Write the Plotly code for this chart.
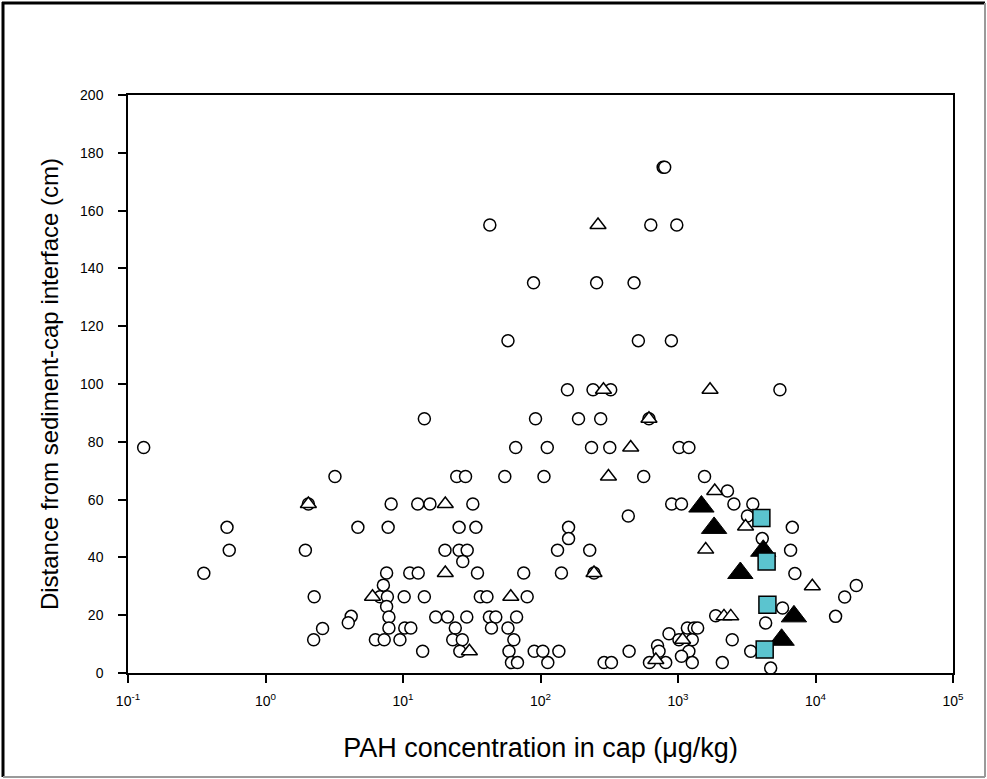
import plotly.graph_objects as go

# Open circles: PAH concentration (ug/kg) and depth above interface (cm)
circle_x = [
    780, 800,
    42.8, 634, 980,
    89, 256, 479,
    58, 515, 895,
    157, 241, 324, 5510,
    14.3, 92, 189, 274, 615,
    0.13, 66, 112, 235, 319, 1020, 1200,
    3.2, 24.6, 28.5, 55, 106, 563, 1560,
    2290,
    2.05, 8.2, 12.8, 15.7, 32.2, 900, 1060, 2550, 3500,
    435, 3200,
    0.525, 4.7, 7.8, 25.6, 33.9, 160, 6780,
    160, 4100,
    0.545, 1.95, 20.2, 25.6, 29.3, 133, 228, 6590,
    27.2,
    0.356, 7.6, 11.2, 12.9, 34.8, 75.5, 142, 245, 7080,
    7.2, 19800,
    2.26, 6.8, 7.7, 10.2, 14.3, 36.5, 40.8, 80, 16300,
    7.6, 5760,
    4.2, 7.9, 17.3, 21.1, 29.1, 42.5, 47.3, 67, 1880, 14000,
    4.0, 4340,
    2.6, 7.9, 10.3, 11.4, 24, 44, 58, 1170, 1310, 1390,
    860,
    2.24, 6.3, 7.3, 9.5, 23, 27, 64, 1016, 1270, 2480,
    710,
    13.9, 25.9, 59, 90, 104, 136, 441, 728, 1200, 3380,
    1060,
    61.5, 68, 113, 290, 328, 620, 814, 1270, 2100,
    4720,
]
circle_y = [
    175, 175,
    155, 155, 155,
    135, 135, 135,
    115, 115, 115,
    98, 98, 98, 98,
    88, 88, 88, 88, 88,
    78, 78, 78, 78, 78, 78, 78,
    68, 68, 68, 68, 68, 68, 68,
    63,
    58.5, 58.5, 58.5, 58.5, 58.5, 58.5, 58.5, 58.5, 58.5,
    54.3, 54.3,
    50.4, 50.4, 50.4, 50.4, 50.4, 50.4, 50.4,
    46.5, 46.5,
    42.5, 42.5, 42.5, 42.5, 42.5, 42.5, 42.5, 42.5,
    38.6,
    34.5, 34.6, 34.6, 34.6, 34.6, 34.6, 34.6, 34.6, 34.4,
    30.4, 30.3,
    26.4, 26.4, 26.4, 26.4, 26.4, 26.4, 26.4, 26.4, 26.3,
    23, 22.5,
    19.6, 19.4, 19.4, 19.4, 19.4, 19.4, 19.4, 19.4, 19.8, 19.6,
    17.4, 17.3,
    15.4, 15.6, 15.6, 15.6, 15.6, 15.6, 15.6, 15.6, 15.6, 15.6,
    13.6,
    11.5, 11.5, 11.5, 11.5, 11.5, 11.5, 11.5, 11.5, 11.5, 11.5,
    9.4,
    7.5, 7.5, 7.5, 7.5, 7.5, 7.5, 7.5, 7.5, 7.5, 7.5,
    5.8,
    3.6, 3.6, 3.6, 3.6, 3.6, 3.6, 3.6, 3.6, 3.6,
    1.7,
]

# Open triangles
tri_open_x = [262, 287, 1710, 615, 453, 312, 1850, 2.05, 20.3, 3100, 1590,
              20.3, 245, 6.0, 60.8, 9480, 2160, 2420, 30.4, 1080, 690]
tri_open_y = [155, 98, 98, 88, 78, 68, 63, 58.5, 58.5, 50.7, 42.7,
              34.6, 34.6, 26.4, 26.4, 30, 19.6, 19.6, 7.5, 11.5, 4.5]

# Filled triangles
tri_fill_x = [1480, 1830, 4170, 2840, 6970, 5670]
tri_fill_y = [57.6, 50.2, 42.3, 34.6, 19.6, 11.5]

# Cyan squares
square_x = [4040, 4410, 4470, 4270]
square_y = [53.6, 38.6, 23.6, 8.1]

x_tick_vals = [0.1, 1, 10, 100, 1000, 10000, 100000]
x_tick_text = ["10<sup>-1</sup>", "10<sup>0</sup>", "10<sup>1</sup>", "10<sup>2</sup>",
               "10<sup>3</sup>", "10<sup>4</sup>", "10<sup>5</sup>"]
y_tick_vals = list(range(0, 201, 20))

W, H = 987, 779
ML, MR, MT, MB = 128, 34, 95, 106
FONT = "Liberation Sans, Arial, sans-serif"

fig = go.Figure()
fig.add_trace(go.Scatter(
    x=circle_x, y=circle_y, mode="markers",
    marker=dict(symbol="circle", size=12, color="white",
                line=dict(color="black", width=1.5)),
    showlegend=False))
fig.add_trace(go.Scatter(
    x=tri_open_x, y=tri_open_y, mode="markers",
    marker=dict(symbol="triangle-up", size=14, color="white",
                line=dict(color="black", width=1.5)),
    showlegend=False))
fig.add_trace(go.Scatter(
    x=tri_fill_x, y=tri_fill_y, mode="markers",
    marker=dict(symbol="triangle-up", size=22, color="black",
                line=dict(color="black", width=1)),
    showlegend=False))
fig.add_trace(go.Scatter(
    x=square_x, y=square_y, mode="markers",
    marker=dict(symbol="square", size=17, color="#5bc4cf",
                line=dict(color="black", width=1.5)),
    showlegend=False))

# frame around the whole figure, in paper units
pw, ph = W - ML - MR, H - MT - MB
def px(xp):
    return (xp - ML) / pw
def py(yp):
    return (H - MB - yp) / ph

frame = [
    (3, 2, 3, 777, "black", 3),
    (2, 3, 985, 3, "black", 3),
    (985, 3, 985, 777, "#9a9a9a", 2),
    (3, 777, 985, 777, "#9a9a9a", 2),
]
for x0, y0, x1, y1, c, w in frame:
    fig.add_shape(type="line", xref="paper", yref="paper",
                  x0=px(x0), y0=py(y0), x1=px(x1), y1=py(y1),
                  line=dict(color=c, width=w), layer="above")

fig.update_layout(
    width=W, height=H,
    margin=dict(l=ML, r=MR, t=MT, b=MB, autoexpand=False),
    paper_bgcolor="white", plot_bgcolor="white",
    font=dict(family=FONT, color="black", size=14),
)
fig.update_xaxes(
    type="log", range=[-1, 5],
    tickvals=x_tick_vals, ticktext=x_tick_text,
    showline=True, mirror=True, linecolor="black", linewidth=1.5,
    ticks="outside", ticklen=8, tickwidth=1.5, tickcolor="black",
    ticklabelstandoff=6,
    showgrid=False, zeroline=False,
    tickfont=dict(size=14, family=FONT),
    title=dict(text="PAH concentration in cap (\u03bcg/kg)",
               font=dict(size=27, family=FONT), standoff=31),
)
fig.update_yaxes(
    range=[0, 200], tickvals=y_tick_vals,
    showline=True, mirror=True, linecolor="black", linewidth=1.5,
    ticks="outside", ticklen=8, tickwidth=1.5, tickcolor="black",
    ticklabelstandoff=12,
    showgrid=False, zeroline=False,
    tickfont=dict(size=14, family=FONT),
    title=dict(text="Distance from sediment-cap interface (cm)",
               font=dict(size=24, family=FONT), standoff=15),
)

fig.write_html("out.html")
